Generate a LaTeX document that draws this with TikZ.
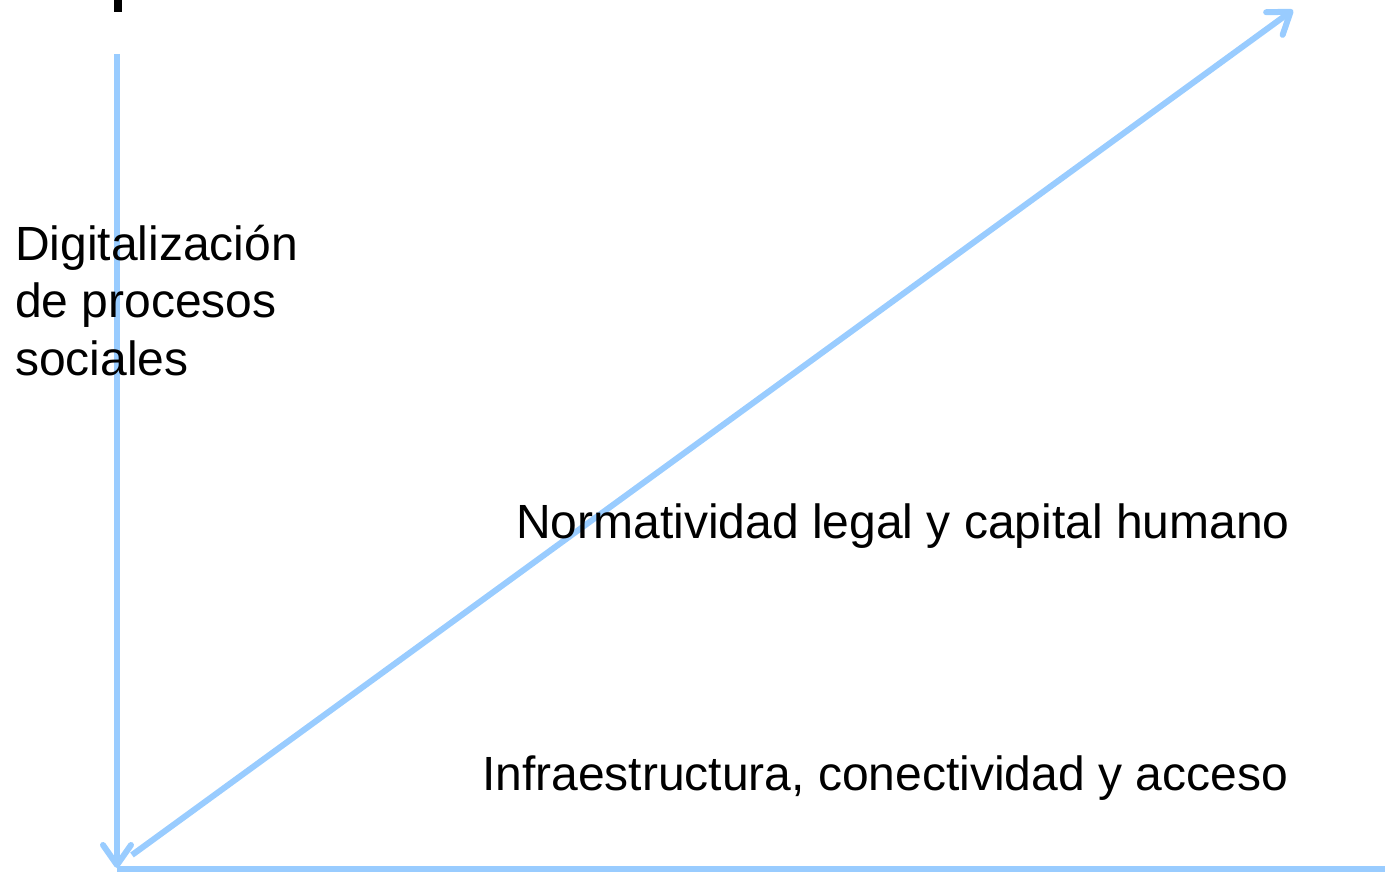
\documentclass[tikz,border=0pt]{standalone}
\usepackage{fontspec}
\setmainfont{Liberation Sans}
\usepackage{xcolor}
\usetikzlibrary{arrows.meta, positioning}
\definecolor{axisblue}{RGB}{153,204,255}

\begin{document}
\begin{tikzpicture}[x=1pt, y=-1pt, >={Straight Barb[length=20pt, width=28pt, round]},
    axis/.style={line width=6pt, color=axisblue},
    label/.style={font=\fontsize{48}{57.5}\selectfont, inner sep=0pt}]
        \useasboundingbox (0,0) rectangle (1385,872);

        % Axes
        \coordinate (origin) at (117,868);
        \coordinate (ytop) at (117,54);
        \coordinate (xend) at (1385,869);
        \coordinate (dstart) at (132,855);
        \coordinate (dend) at (1293,10);
        \draw[axis, ->] (ytop) -- (origin);
        \draw[axis] (origin |- xend) -- (xend);
        \draw[axis, ->] (dstart) -- (dend);

        % Cut-off mark at the top
        \fill[black] (114,0) rectangle (122,12);

        % Labels
        \node[label, anchor=base west, align=left] (digital) at (15,375)
        {Digitalización\\de procesos\\sociales};
        \node[label, anchor=base east] (norma) at (1290,538)
        {Normatividad legal y capital humano};
        \node[label, anchor=base east] (infra) at (1288,790)
        {Infraestructura, conectividad y acceso};
    \end{tikzpicture}
\end{document}
